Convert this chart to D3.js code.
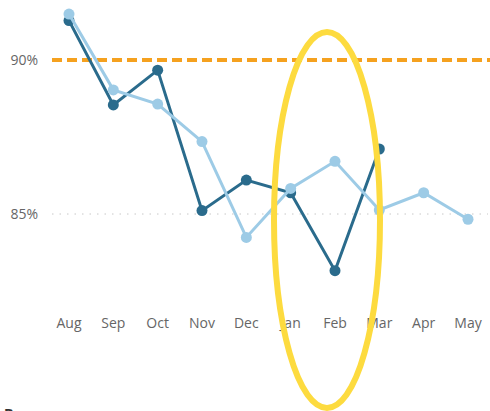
<!doctype html>
<html>
<head>
<meta charset="utf-8"/>
<style>
body{margin:0;background:#fff;}
svg text{font-family:"Segoe UI","Open Sans","Noto Sans",sans-serif;}
</style>
<script src="https://d3js.org/d3.v7.min.js"></script>
</head>
<body>
<script>
var months = ["Aug","Sep","Oct","Nov","Dec","Jan","Feb","Mar","Apr","May"];
var darkVals = [91.28, 88.54, 89.67, 85.11, 86.10, 85.69, 83.16, 87.11];
var lightVals = [91.49, 89.03, 88.57, 87.35, 84.24, 85.83, 86.71, 85.13, 85.69, 84.83];
var target = 90;
var yTicks = [85, 90];

var svg = d3.select("body").append("svg")
  .attr("width", 490).attr("height", 411);

var x = d3.scalePoint().domain(months).range([69, 468]);
var y = d3.scaleLinear().domain([85, 90]).range([214, 60]);

// grid + target
svg.append("line")
  .attr("x1", 52).attr("x2", 488)
  .attr("y1", y(85)).attr("y2", y(85))
  .attr("stroke", "#c8c8c8").attr("stroke-width", 1)
  .attr("stroke-dasharray", "1.5,6");

svg.append("line")
  .attr("x1", 52).attr("x2", 490)
  .attr("y1", y(target)).attr("y2", y(target))
  .attr("stroke", "#F5A11F").attr("stroke-width", 4)
  .attr("stroke-dasharray", "10,5");

// y labels
svg.selectAll(".ylab").data(yTicks).enter().append("text")
  .attr("x", 38).attr("y", function(d){ return y(d); })
  .attr("dy", "0.35em").attr("text-anchor", "end")
  .attr("font-size", 14).attr("fill", "#666")
  .text(function(d){ return d + "%"; });

// x labels
svg.selectAll(".xlab").data(months).enter().append("text")
  .attr("x", function(d){ return x(d); }).attr("y", 328)
  .attr("text-anchor", "middle")
  .attr("font-size", 14).attr("fill", "#666")
  .text(function(d){ return d; });

function drawSeries(vals, color){
  var line = d3.line()
    .x(function(d,i){ return x(months[i]); })
    .y(function(d){ return y(d); });
  svg.append("path").datum(vals)
    .attr("d", line).attr("fill", "none")
    .attr("stroke", color).attr("stroke-width", 3);
  svg.selectAll(null).data(vals).enter().append("circle")
    .attr("cx", function(d,i){ return x(months[i]); })
    .attr("cy", function(d){ return y(d); })
    .attr("r", 5.5).attr("fill", color);
}
drawSeries(darkVals, "#2A6B8C");
drawSeries(lightVals, "#9DCBE6");

// highlight ellipse
svg.append("ellipse")
  .attr("cx", 327).attr("cy", 220).attr("rx", 53).attr("ry", 188)
  .attr("fill", "none").attr("stroke", "#FDDB3F").attr("stroke-width", 6);

// clipped title at the bottom
svg.append("text")
  .attr("x", 4).attr("y", 419)
  .attr("font-size", 14).attr("font-weight", "bold").attr("fill", "#333")
  .text("Bar");
</script>
</body>
</html>
